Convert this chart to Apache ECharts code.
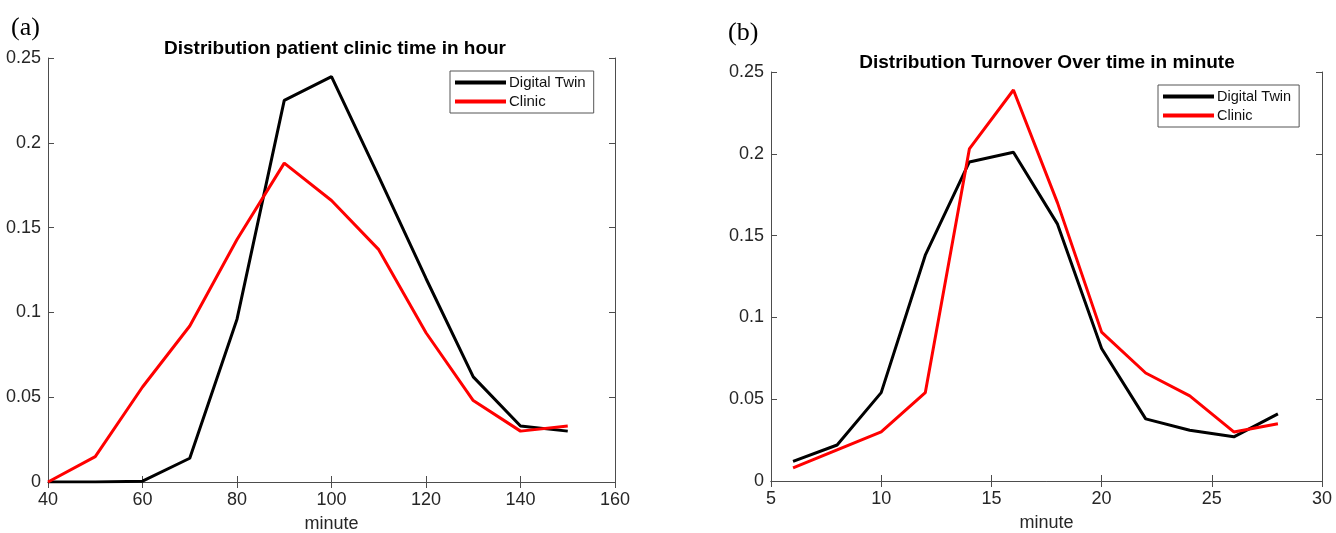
<!DOCTYPE html>
<html>
<head>
<meta charset="utf-8">
<script src="https://cdn.jsdelivr.net/npm/echarts@6/dist/echarts.min.js"></script>
<style>
  html, body { margin: 0; padding: 0; background: #fff; }
  #chart { width: 1336px; height: 533px; }
</style>
</head>
<body>
<div id="chart"></div>
<script>
// Panel (a): patient clinic time
const clinicTimeX = [40, 50, 60, 70, 80, 90, 100, 110, 120, 130, 140, 150];
const clinicTimeTwin = [0, 0, 0.0005, 0.014, 0.096, 0.225, 0.239, 0.180, 0.120, 0.062, 0.033, 0.030];
const clinicTimeClinic = [0, 0.015, 0.056, 0.092, 0.143, 0.188, 0.166, 0.137, 0.088, 0.048, 0.030, 0.033];

// Panel (b): turnover time
const turnoverX = [6, 8, 10, 12, 14, 16, 18, 20, 22, 24, 26, 28];
const turnoverTwin = [0.012, 0.022, 0.054, 0.138, 0.195, 0.201, 0.157, 0.081, 0.038, 0.031, 0.027, 0.041];
const turnoverClinic = [0.008, 0.019, 0.030, 0.054, 0.203, 0.239, 0.170, 0.091, 0.066, 0.052, 0.030, 0.035];

const FONT = '"Liberation Sans", Arial, sans-serif';
const AXIS_COLOR = '#4d4d4d';

function pairs(xs, ys) {
    return xs.map((x, i) => [x, ys[i]]);
}

// MATLAB-style box: ticks inward on all four sides
function xAxes(gridIndex, min, max, interval) {
    const base = {
        type: 'value', gridIndex: gridIndex, min: min, max: max, interval: interval,
        splitLine: { show: false },
        axisLine: { lineStyle: { color: AXIS_COLOR, width: 1 } },
        axisTick: { inside: true, length: 6, lineStyle: { color: AXIS_COLOR } }
    };
    return [
        Object.assign({}, base, {
            position: 'bottom',
            name: 'minute', nameLocation: 'middle', nameGap: 33,
            nameTextStyle: { fontFamily: FONT, fontSize: 18, color: '#262626' },
            axisLabel: { fontFamily: FONT, fontSize: 18, color: '#262626', margin: 9 }
        }),
        Object.assign({}, base, { position: 'top', axisLabel: { show: false } })
    ];
}

function yAxes(gridIndex) {
    const base = {
        type: 'value', gridIndex: gridIndex, min: 0, max: 0.25, interval: 0.05,
        splitLine: { show: false },
        axisLine: { show: true, lineStyle: { color: AXIS_COLOR, width: 1 } },
        axisTick: { show: true, inside: true, length: 6, lineStyle: { color: AXIS_COLOR } }
    };
    return [
        Object.assign({}, base, {
            position: 'left',
            axisLabel: { fontFamily: FONT, fontSize: 18, color: '#262626', margin: 7 }
        }),
        Object.assign({}, base, { position: 'right', axisLabel: { show: false } })
    ];
}

function lineSeries(name, data, color, axisIndex) {
    return {
        name: name, type: 'line', data: data,
        xAxisIndex: axisIndex, yAxisIndex: axisIndex,
        symbol: 'none', lineStyle: { color: color, width: 3 }, itemStyle: { color: color },
        animation: false
    };
}

function legendAt(left, top, fontSize) {
    return {
        left: left, top: top,
        orient: 'vertical', itemGap: 4, itemWidth: 51, itemHeight: 4,
        icon: 'rect',
        borderColor: '#555', borderWidth: 1, backgroundColor: '#fff',
        padding: [4, 8, 4, 5],
        textStyle: { fontFamily: FONT, fontSize: fontSize, color: '#111', padding: [0, 0, 0, -2] },
        data: ['Digital Twin', 'Clinic']
    };
}

const chart = echarts.init(document.getElementById('chart'));
chart.setOption({
    backgroundColor: '#fff',
    animation: false,
    title: [
        { text: '(a)', left: 6, top: 10, textStyle: { fontFamily: '"Liberation Serif", "Times New Roman", serif', fontSize: 26, fontWeight: 'normal', color: '#000' } },
        { text: '(b)', left: 723, top: 15, textStyle: { fontFamily: '"Liberation Serif", "Times New Roman", serif', fontSize: 26, fontWeight: 'normal', color: '#000' } },
        { text: 'Distribution patient clinic time in hour', left: 330, textAlign: 'center', top: 34, textStyle: { fontFamily: FONT, fontSize: 19, fontWeight: 'bold', color: '#000' } },
        { text: 'Distribution Turnover Over time in minute', left: 1042, textAlign: 'center', top: 48, textStyle: { fontFamily: FONT, fontSize: 19, fontWeight: 'bold', color: '#000' } }
    ],
    legend: [
        legendAt(450, 71, 15),
        legendAt(1158, 85, 14.5)
    ],
    grid: [
        { left: 48, top: 58, width: 567, height: 424, outerBoundsMode: 'none', containLabel: false },
        { left: 771, top: 72, width: 551, height: 409, outerBoundsMode: 'none', containLabel: false }
    ],
    xAxis: xAxes(0, 40, 160, 20).concat(xAxes(1, 5, 30, 5)),
    yAxis: yAxes(0).concat(yAxes(1)),
    series: [
        lineSeries('Digital Twin', pairs(clinicTimeX, clinicTimeTwin), '#000000', 0),
        lineSeries('Clinic', pairs(clinicTimeX, clinicTimeClinic), '#ff0000', 0),
        lineSeries('Digital Twin', pairs(turnoverX, turnoverTwin), '#000000', 2),
        lineSeries('Clinic', pairs(turnoverX, turnoverClinic), '#ff0000', 2)
    ]
});
</script>
</body>
</html>
